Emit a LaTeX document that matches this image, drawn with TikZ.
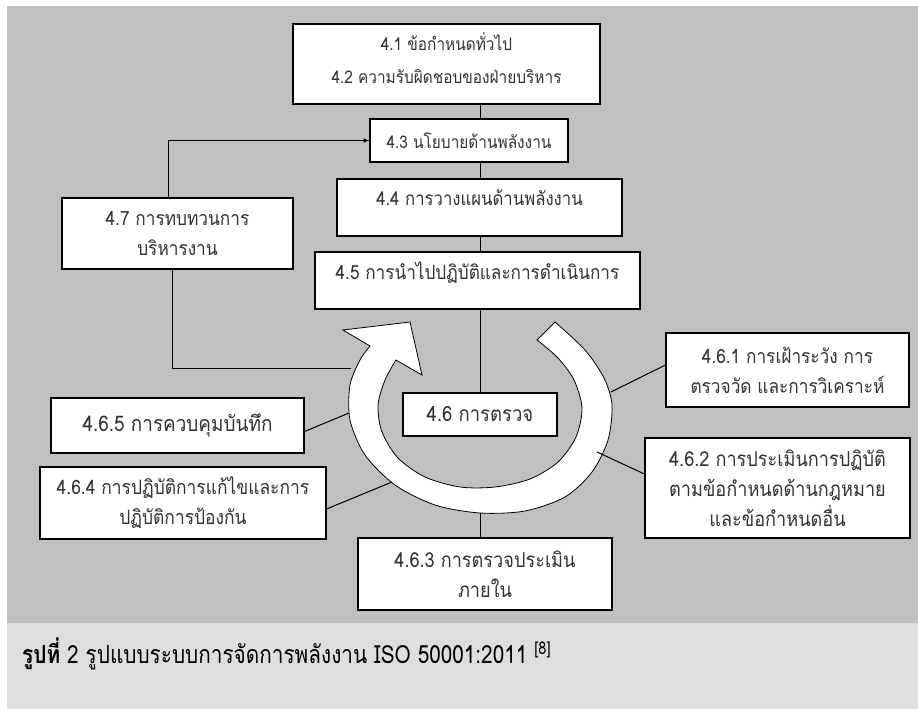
\documentclass[tikz,border=0pt]{standalone}
\usepackage{fontspec}
\newfontfamily\thaifont[Script=Thai,FakeStretch=0.88]{Loma}
\newfontfamily\capfont[Script=Thai,FakeStretch=0.83]{Loma}
\usetikzlibrary{arrows.meta}
\tikzset{> = latex}
\definecolor{panel}{HTML}{C0C0C0}
\definecolor{capbg}{HTML}{DEDEDE}
\definecolor{ink}{HTML}{333333}
\newcommand{\boxfont}[1]{\thaifont\fontsize{#1}{30}\selectfont}
\tikzset{
  box/.style={draw=black, fill=white, line width=1.1pt, text=ink, align=center,
    inner sep=0pt, font=\boxfont{20}},
  link/.style={line width=1pt},
  ring/.style={fill=white, draw=black, line width=.8pt}
}

\begin{document}
\begin{tikzpicture}[x=1pt,y=-1pt]
	\useasboundingbox (0,0) rectangle (918,709);
	\fill[panel] (7,6) rectangle (918,623);
	\fill[capbg] (7,623) rectangle (918,709);
	% boxes of the cycle
	\node[box, font=\boxfont{17.5}, minimum width=307pt, minimum height=80pt, text depth=11pt] (b41) at (446.5,64) {4.1 ข้อกำหนดทั่วไป\\[3pt]4.2 ความรับผิดชอบของฝ่ายบริหาร};
	\node[box, font=\boxfont{17.5}, minimum width=198pt, minimum height=43pt] (b43) at (469,140.5) {4.3 นโยบายด้านพลังงาน};
	\node[box, font=\boxfont{19}, minimum width=285pt, minimum height=57pt, text depth=19pt] (b44) at (479.5,207.5) {4.4 การวางแผนด้านพลังงาน};
	\node[box, font=\boxfont{19.5}, minimum width=325pt, minimum height=57pt, text depth=19pt] (b45) at (477.5,280.5) {4.5 การนำไปปฏิบัติและการดำเนินการ};
	\node[box, font=\boxfont{19.6}, minimum width=231pt, minimum height=71pt] (b47) at (177.5,233.5) {4.7 การทบทวนการ\\บริหารงาน};
	\node[box, font=\boxfont{21}, minimum width=154pt, minimum height=43pt] (b46) at (480,414.5) {4.6 การตรวจ};
	\node[box, font=\boxfont{21.5}, minimum width=253pt, minimum height=55pt] (b465) at (177.5,425.5) {4.6.5 การควบคุมบันทึก};
	\node[box, font=\boxfont{19.8}, minimum width=286pt, minimum height=72pt] (b464) at (183,503) {4.6.4 การปฏิบัติการแก้ไขและการ\\ปฏิบัติการป้องกัน};
	\node[box, font=\boxfont{20.6}, minimum width=254pt, minimum height=72pt] (b463) at (485,574) {4.6.3 การตรวจประเมิน\\ภายใน};
	\node[box, font=\boxfont{19.6}, minimum width=243pt, minimum height=74pt] (b461) at (787.5,370) {4.6.1 การเฝ้าระวัง การ\\ตรวจวัด และการวิเคราะห์};
	\node[box, font=\boxfont{20.6}, minimum width=265pt, minimum height=100pt] (b462) at (777.5,488) {4.6.2 การประเมินการปฏิบัติ\\ตามข้อกำหนดด้านกฎหมาย\\และข้อกำหนดอื่น};
	% circular arrow
	\filldraw[ring] plot[smooth] coordinates {(555,322) (585,350) (604,378) (612,405) (608,440) (592,472) (565,497) (525,511) (480,513) (435,505) (395,485) (365,455) (350,420) (350,385) (360,360) (370,346)}
		-- (343,330) -- (410,322) -- (422,375)
		-- plot[smooth] coordinates {(396,360) (385,380) (378,405) (382,432) (398,458) (425,477) (460,487) (495,487) (530,479) (558,462) (576,437) (582,408) (574,380) (558,358) (537,340)} -- cycle;
	\coordinate (r47) at (351,368);
	\coordinate (r465) at (349,413);
	\coordinate (r464) at (392,482);
	\coordinate (r463) at (480,513);
	\coordinate (r461) at (611,392);
	\coordinate (r462) at (597,452);
	% connectors
	\draw[link] (b41.south -| b46) -- (b43.north -| b46);
	\draw[link] (b43.south -| b46) -- (b44.north -| b46);
	\draw[link] (b44.south -| b46) -- (b45.north -| b46);
	\draw[link] (b45.south -| b46) -- (b46.north);
	\draw[link,->] ([xshift=-9.5pt]b47.north) |- (b43.west);
	\draw[link] ([xshift=-5.5pt]b47.south) |- (r47);
	\draw[link] ([yshift=-6pt]b465.east) -- (r465);
	\draw[link] ([yshift=-6pt]b464.east) -- (r464);
	\draw[link] (r463) -- (b463.north -| r463);
	\draw[link] ([yshift=5pt]b461.west) -- (r461);
	\draw[link] ([yshift=14pt]b462.west) -- (r462);
	% caption
	\node[anchor=west, inner sep=0pt, font=\capfont\fontsize{25}{28}\selectfont] (cap) at (22,654) {\textbf{รูปที่} 2 รูปแบบระบบการจัดการพลังงาน ISO 50001:2011 \textsuperscript{[8]}};
\end{tikzpicture}
\end{document}
